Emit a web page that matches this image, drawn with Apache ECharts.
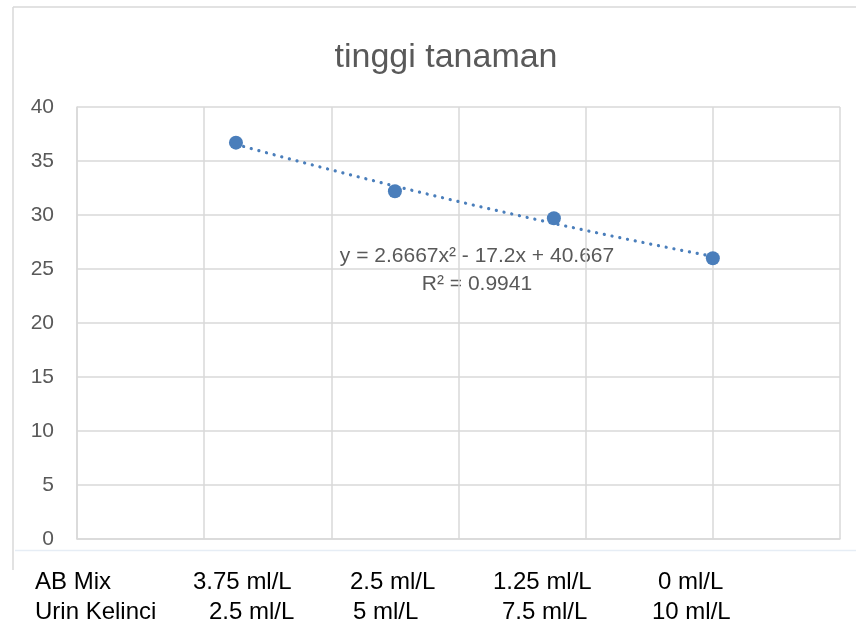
<!DOCTYPE html>
<html>
<head>
<meta charset="utf-8">
<script src="https://cdn.jsdelivr.net/npm/echarts@6/dist/echarts.min.js"></script>
<style>html,body{margin:0;padding:0;background:#fff;}#c{width:856px;height:630px;}</style>
</head>
<body>
<div id="c"></div>
<script>
var title = 'tinggi tanaman';
var xPositions = [1, 2, 3, 4];
var heights = [36.7, 32.2, 29.7, 26.0];
var yTicks = [0, 5, 10, 15, 20, 25, 30, 35, 40];
var rowLabels = ['AB Mix', 'Urin Kelinci'];
var abMix = ['3.75 ml/L', '2.5 ml/L', '1.25 ml/L', '0 ml/L'];
var urin = ['2.5 ml/L', '5 ml/L', '7.5 ml/L', '10 ml/L'];
var equation = 'y = 2.6667x\u00b2 - 17.2x + 40.667';
var rSquared = 'R\u00b2 = 0.9941';

// quadratic least-squares trendline from the data
function quadFit(xs, ys) {
  var n = xs.length, S = [0,0,0,0,0], T = [0,0,0];
  for (var i = 0; i < n; i++) {
    var p = 1;
    for (var k = 0; k < 5; k++) { S[k] += p; if (k < 3) T[k] += p * ys[i]; p *= xs[i]; }
  }
  var A = [[S[0],S[1],S[2],T[0]],[S[1],S[2],S[3],T[1]],[S[2],S[3],S[4],T[2]]];
  for (var c = 0; c < 3; c++) {
    for (var r = c + 1; r < 3; r++) {
      var f = A[r][c] / A[c][c];
      for (var j = c; j < 4; j++) A[r][j] -= f * A[c][j];
    }
  }
  var x = [0,0,0];
  for (var r2 = 2; r2 >= 0; r2--) {
    var s = A[r2][3];
    for (var j2 = r2 + 1; j2 < 3; j2++) s -= A[r2][j2] * x[j2];
    x[r2] = s / A[r2][r2];
  }
  return x;
}
var coef = quadFit(xPositions, heights);
var trend = [];
var x0 = xPositions[0], x1 = xPositions[xPositions.length - 1];
for (var i = 0; i <= 60; i++) {
  var xv = x0 + (x1 - x0) * i / 60;
  trend.push([xv, coef[0] + coef[1] * xv + coef[2] * xv * xv]);
}

var chart = echarts.init(document.getElementById('c'));
var gray = '#d9d9d9';
var textFont = '"Liberation Sans", Arial, sans-serif';
var graphics = [
  { type: 'line', shape: { x1: 13, y1: 7, x2: 856, y2: 7 }, style: { stroke: gray, lineWidth: 1.5 } },
  { type: 'line', shape: { x1: 13, y1: 7, x2: 13, y2: 570 }, style: { stroke: gray, lineWidth: 1.5 } },
  { type: 'line', shape: { x1: 15, y1: 550.5, x2: 856, y2: 550.5 }, style: { stroke: '#e6edf5', lineWidth: 1.5 } },
  { type: 'text', left: 35, top: 570, style: { text: rowLabels[0], font: '24px ' + textFont, fill: '#000' } },
  { type: 'text', left: 35, top: 600, style: { text: rowLabels[1], font: '24px ' + textFont, fill: '#000' } },
  { type: 'text', x: 477, y: 256, style: { text: equation, font: '21px ' + textFont, fill: '#595959', align: 'center', verticalAlign: 'middle' } },
  { type: 'text', x: 477, y: 284, style: { text: rSquared, font: '21px ' + textFont, fill: '#595959', align: 'center', verticalAlign: 'middle' } }
];
var abX = [193, 350, 493, 658];
var urX = [209, 353, 502, 652];
for (var a = 0; a < abMix.length; a++) {
  graphics.push({ type: 'text', left: abX[a], top: 570, style: { text: abMix[a], font: '24px ' + textFont, fill: '#000' } });
  graphics.push({ type: 'text', left: urX[a], top: 600, style: { text: urin[a], font: '24px ' + textFont, fill: '#000' } });
}

chart.setOption({
  animation: false,
  backgroundColor: '#fff',
  title: {
    text: title, left: 441, top: 36, textAlign: 'center',
    textStyle: { fontSize: 34, fontWeight: 'normal', color: '#595959', fontFamily: textFont }
  },
  grid: { left: 77, right: 16, top: 107, bottom: 91, containLabel: false },
  xAxis: {
    type: 'value', min: 0, max: 4.8, interval: 0.8,
    axisLine: { show: true, lineStyle: { color: gray, width: 1.5 } },
    axisTick: { show: false }, axisLabel: { show: false },
    splitLine: { show: true, lineStyle: { color: gray, width: 1.5 } }
  },
  yAxis: {
    type: 'value', min: yTicks[0], max: yTicks[yTicks.length - 1], interval: 5,
    axisLine: { show: true, lineStyle: { color: gray, width: 1.5 } },
    axisTick: { show: false },
    axisLabel: { color: '#595959', fontSize: 21, margin: 23, fontFamily: textFont },
    splitLine: { show: true, lineStyle: { color: gray, width: 1.5 } }
  },
  series: [
    {
      type: 'line', data: trend, showSymbol: false, symbol: 'none', z: 2,
      lineStyle: { color: '#4a7ebb', width: 3.2, type: [0.1, 7.8], cap: 'round' }
    },
    {
      type: 'scatter', data: xPositions.map(function (x, i) { return [x, heights[i]]; }),
      symbol: 'circle', symbolSize: 14, z: 3,
      itemStyle: { color: '#4a7ebb', opacity: 1 }
    }
  ],
  graphic: graphics
});
</script>
</body>
</html>
